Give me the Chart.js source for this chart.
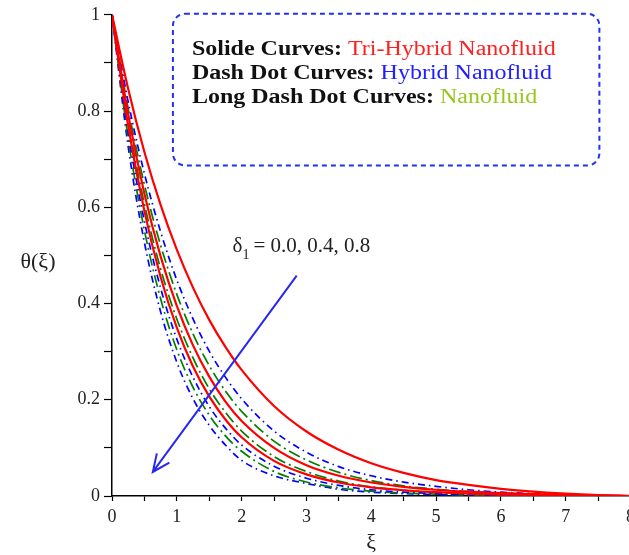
<!DOCTYPE html>
<html>
<head>
<meta charset="utf-8">
<script src="https://cdn.jsdelivr.net/npm/chart.js@4.4.1/dist/chart.umd.min.js"></script>
<style>
  html, body { margin: 0; padding: 0; background: #fff; overflow: hidden; }
  #wrap { position: relative; width: 640px; height: 555px; }
</style>
</head>
<body>
<div id="wrap"><canvas id="thetaChart"></canvas></div>
<script>
/* theta(xi) profiles for tri-hybrid, hybrid and mono nanofluids, delta1 = 0.0, 0.4, 0.8 */

const XI = [0, 0.25, 0.5, 0.75, 1, 1.25, 1.5, 1.75, 2, 2.5, 3, 3.5, 4, 4.5, 5, 5.5, 6, 6.5, 7, 7.5, 8];

// Tri-hybrid (solid red)
const TRI_D00 = [1, 0.846, 0.715, 0.605, 0.512, 0.433, 0.366, 0.310, 0.262, 0.187, 0.134, 0.096, 0.068, 0.048, 0.033, 0.023, 0.015, 0.009, 0.005, 0.002, 0];
const TRI_D04 = [1, 0.793, 0.628, 0.498, 0.395, 0.313, 0.248, 0.196, 0.156, 0.100, 0.064, 0.042, 0.028, 0.019, 0.013, 0.009, 0.006, 0.004, 0.002, 0.001, 0];
const TRI_D08 = [1, 0.769, 0.592, 0.455, 0.350, 0.269, 0.207, 0.159, 0.122, 0.073, 0.045, 0.028, 0.018, 0.012, 0.008, 0.005, 0.003, 0.002, 0.001, 0.001, 0];

// Hybrid (blue dash dot)
const HYB_D00 = [1, 0.819, 0.670, 0.549, 0.449, 0.368, 0.301, 0.247, 0.202, 0.135, 0.091, 0.061, 0.042, 0.029, 0.020, 0.013, 0.008, 0.005, 0.003, 0.001, 0];
const HYB_D04 = [1, 0.756, 0.571, 0.432, 0.326, 0.247, 0.186, 0.141, 0.106, 0.062, 0.037, 0.022, 0.013, 0.008, 0.005, 0.003, 0.002, 0.001, 0.001, 0, 0];
const HYB_D08 = [1, 0.726, 0.527, 0.383, 0.278, 0.202, 0.147, 0.106, 0.074, 0.042, 0.026, 0.014, 0.008, 0.005, 0.003, 0.002, 0.001, 0.001, 0, 0, 0];

// Nanofluid (green long dash dot)
const NANO_D00 = [1, 0.805, 0.647, 0.521, 0.419, 0.337, 0.271, 0.218, 0.176, 0.114, 0.075, 0.049, 0.032, 0.021, 0.014, 0.009, 0.006, 0.004, 0.002, 0.001, 0];
const NANO_D04 = [1, 0.779, 0.607, 0.472, 0.368, 0.287, 0.223, 0.174, 0.135, 0.082, 0.051, 0.031, 0.019, 0.012, 0.008, 0.005, 0.003, 0.002, 0.001, 0, 0];
const NANO_D08 = [1, 0.743, 0.552, 0.410, 0.304, 0.226, 0.168, 0.125, 0.093, 0.051, 0.029, 0.017, 0.010, 0.006, 0.004, 0.002, 0.001, 0.001, 0, 0, 0];

const Y_TICKS = [0, 0.2, 0.4, 0.6, 0.8, 1];
const X_TICKS = [0, 1, 2, 3, 4, 5, 6, 7, 8];

const LEGEND_LINES = [
    ['Solide Curves: ', 'Tri-Hybrid Nanofluid', '#ff2020'],
    ['Dash Dot Curves: ', 'Hybrid Nanofluid', '#2020ff'],
    ['Long Dash Dot Curves: ', 'Nanofluid', '#99c51c'],
];

const SERIF = "'Liberation Serif', 'Times New Roman', serif";

function pts(ys) {
    return XI.map((x, i) => ({ x, y: ys[i] }));
}

function curve(ys, kind) {
    const styles = {
        tri: { color: '#ff0000', dash: [], width: 2.2 },
        hyb: { color: '#0000ff', dash: [7, 4, 1.5, 4], width: 1.7 },
        nano: { color: '#008000', dash: [12, 4, 2, 4], width: 1.7 },
    };
    const s = styles[kind];
    return {
        data: pts(ys),
        borderColor: s.color,
        borderDash: s.dash,
        borderWidth: s.width,
        pointRadius: 0,
        fill: false,
        cubicInterpolationMode: 'monotone',
    };
}

function fmt(v) {
    return String(Math.round(v * 10) / 10);
}

const annotations = {
    id: 'annotations',
    afterDraw(chart) {
        const { ctx, scales: { x, y } } = chart;
        ctx.save();

        // legend box
        const bx0 = x.getPixelForValue(0.94), bx1 = x.getPixelForValue(7.52);
        const by0 = y.getPixelForValue(1.002), by1 = y.getPixelForValue(0.687);
        ctx.strokeStyle = '#2233ee';
        ctx.lineWidth = 2;
        ctx.setLineDash([5, 4]);
        ctx.beginPath();
        ctx.roundRect(bx0, by0, bx1 - bx0, by1 - by0, 12);
        ctx.stroke();
        ctx.setLineDash([]);

        // legend text, slightly stretched like the original typesetting
        const baselines = [0.917, 0.867, 0.817];
        const tx0 = x.getPixelForValue(1.233);
        const stretch = 1.2;
        LEGEND_LINES.forEach(([head, tail, color], i) => {
            const ty = y.getPixelForValue(baselines[i]);
            ctx.save();
            ctx.translate(tx0, ty);
            ctx.scale(stretch, 1);
            ctx.textBaseline = 'alphabetic';
            ctx.textAlign = 'left';
            ctx.font = 'bold 20px ' + SERIF;
            ctx.fillStyle = '#111';
            ctx.fillText(head, 0, 0);
            const w = ctx.measureText(head).width;
            ctx.font = '20px ' + SERIF;
            ctx.fillStyle = color;
            ctx.fillText(tail, w, 0);
            ctx.restore();
        });

        // delta arrow
        const ax0 = x.getPixelForValue(2.85), ay0 = y.getPixelForValue(0.458);
        const ax1 = x.getPixelForValue(0.63), ay1 = y.getPixelForValue(0.05);
        ctx.strokeStyle = '#2828f0';
        ctx.lineWidth = 2;
        ctx.beginPath();
        ctx.moveTo(ax0, ay0);
        ctx.lineTo(ax1, ay1);
        const ang = Math.atan2(ay1 - ay0, ax1 - ax0);
        const head = 19, spread = 0.42;
        ctx.moveTo(ax1 - head * Math.cos(ang - spread), ay1 - head * Math.sin(ang - spread));
        ctx.lineTo(ax1, ay1);
        ctx.lineTo(ax1 - head * Math.cos(ang + spread), ay1 - head * Math.sin(ang + spread));
        ctx.stroke();

        // delta label
        const lx = x.getPixelForValue(1.86), ly = y.getPixelForValue(0.507);
        ctx.textAlign = 'left';
        ctx.textBaseline = 'alphabetic';
        ctx.fillStyle = '#222';
        ctx.font = '21px ' + SERIF;
        ctx.fillText('\u03b4', lx, ly);
        let off = ctx.measureText('\u03b4').width;
        ctx.font = '14px ' + SERIF;
        ctx.fillText('1', lx + off, ly + 7);
        off += ctx.measureText('1').width + 4;
        ctx.font = '21px ' + SERIF;
        ctx.fillText('= 0.0, 0.4, 0.8', lx + off, ly);

        // axis titles
        ctx.textAlign = 'center';
        ctx.textBaseline = 'middle';
        ctx.font = '22px ' + SERIF;
        ctx.fillStyle = '#222';
        ctx.fillText('\u03b8(\u03be)', chart.chartArea.left - 74, (chart.chartArea.top + chart.chartArea.bottom) / 2 + 7);
        ctx.fillText('\u03be', x.getPixelForValue(4), chart.chartArea.bottom + 47);

        ctx.restore();
    },
};

new Chart(document.getElementById('thetaChart'), {
    type: 'line',
    data: {
        datasets: [
            curve(TRI_D00, 'tri'),
            curve(TRI_D04, 'tri'),
            curve(TRI_D08, 'tri'),
            curve(HYB_D00, 'hyb'),
            curve(NANO_D00, 'nano'),
            curve(NANO_D04, 'nano'),
            curve(HYB_D04, 'hyb'),
            curve(NANO_D08, 'nano'),
            curve(HYB_D08, 'hyb'),
        ],
    },
    options: {
        responsive: true,
        maintainAspectRatio: false,
        animation: false,
        layout: { padding: { top: 14, right: 9.5, left: 0, bottom: 0 } },
        plugins: { legend: { display: false }, tooltip: { enabled: false } },
        scales: {
            x: {
                type: 'linear',
                min: X_TICKS[0],
                max: X_TICKS[X_TICKS.length - 1],
                afterFit: s => { s.height = 59; },
                border: { color: '#000', width: 1.5 },
                grid: { drawOnChartArea: false, tickLength: 5, color: '#000', tickWidth: 1.2 },
                ticks: {
                    stepSize: 0.5,
                    autoSkip: false,
                    maxRotation: 0,
                    padding: 5,
                    color: '#222',
                    font: { family: SERIF, size: 18 },
                    callback: v => X_TICKS.includes(v) ? String(v) : '',
                },
            },
            y: {
                type: 'linear',
                min: Y_TICKS[0],
                max: Y_TICKS[Y_TICKS.length - 1],
                afterFit: s => { s.width = 112; },
                border: { color: '#000', width: 1.5 },
                grid: { drawOnChartArea: false, tickLength: 8, color: '#000', tickWidth: 1.2 },
                ticks: {
                    stepSize: 0.1,
                    autoSkip: false,
                    padding: 4,
                    color: '#222',
                    font: { family: SERIF, size: 18 },
                    callback: v => Y_TICKS.some(t => Math.abs(t - v) < 1e-6) ? fmt(v) : '',
                },
            },
        },
    },
    plugins: [annotations],
});
</script>
</body>
</html>
